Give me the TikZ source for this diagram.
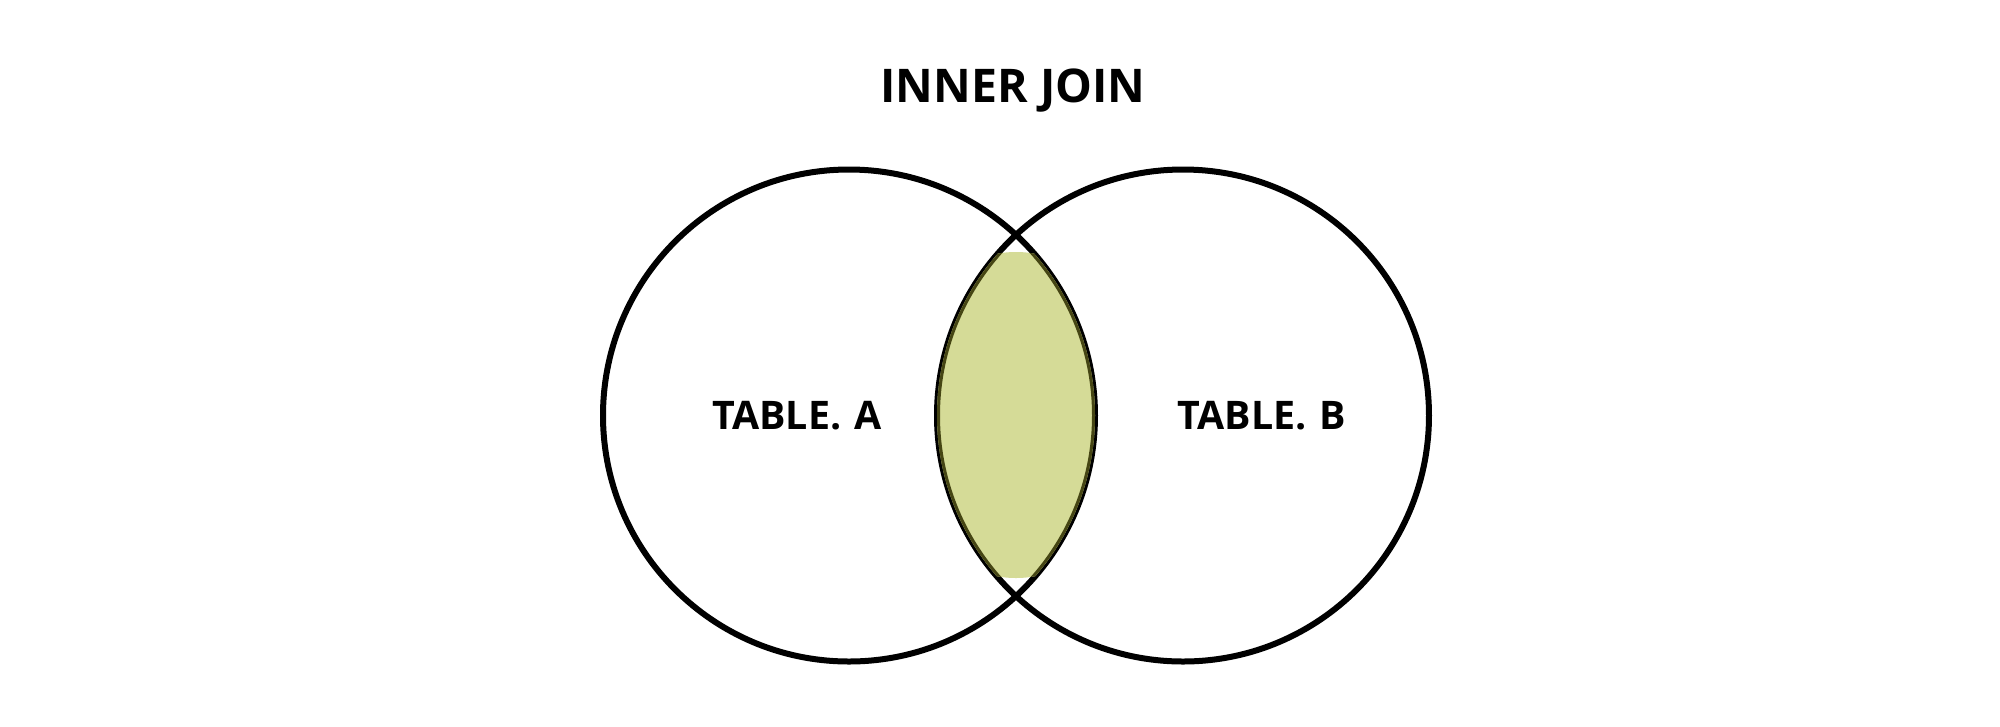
\documentclass[tikz,border=0pt]{standalone}
\usepackage{fontspec}
\setmainfont{Open Sans}
\definecolor{lensgreen}{RGB}{213,219,151}
\definecolor{lensedge}{RGB}{70,70,20}
\tikzset{
  setcircle/.style={circle, draw=black, line width=0.6mm, minimum size=49.2mm, inner sep=0pt},
  titletext/.style={font=\fontsize{13.2pt}{15pt}\selectfont\bfseries, anchor=base, inner sep=0pt},
  labeltext/.style={font=\fontsize{11.2pt}{13pt}\selectfont\bfseries, anchor=base, inner sep=0pt},
}
\begin{document}
\begin{tikzpicture}[x=0.1mm,y=-0.1mm]
\useasboundingbox[fill=white] (0,0) rectangle (2000,726);
\node[setcircle] (A) at (849,415.5) {};
\node[setcircle] (B) at (1183,415.5) {};
\begin{scope}
  \clip (849,415.5) circle (246);
  \clip (1183,415.5) circle (246);
  \clip (1016,415) ellipse (130 and 163);
  \fill[lensgreen] (1016,415) ellipse (130 and 163);
  \draw[lensedge, line width=0.6mm] (849,415.5) circle (246);
  \draw[lensedge, line width=0.6mm] (1183,415.5) circle (246);
\end{scope}
\node[titletext] (title) at (1013,102) {INNER JOIN};
\node[labeltext] (la) at (797,429) {TABLE.\,\,A};
\node[labeltext] (lb) at (1262,429) {TABLE.\,\,B};
\end{tikzpicture}
\end{document}
